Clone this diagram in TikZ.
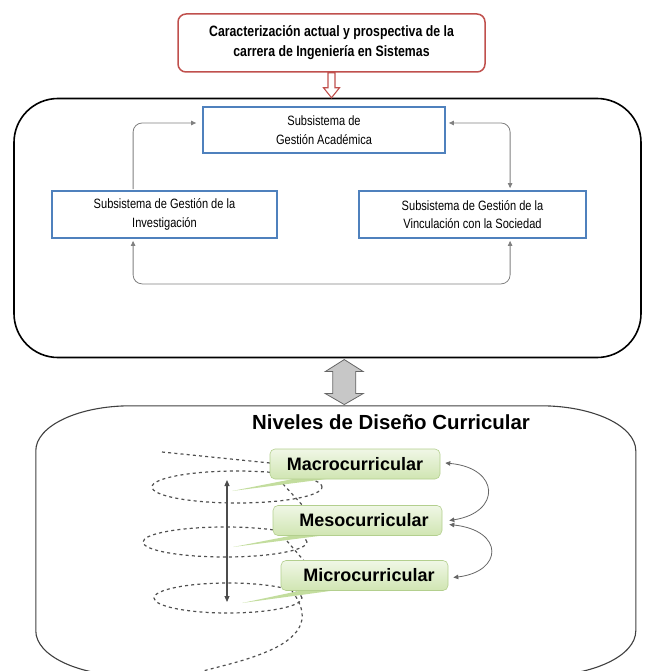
\documentclass[tikz,border=0pt]{standalone}
\usepackage{fontspec}
\setmainfont{Liberation Sans}
\newfontfamily\narrowfont[FakeStretch=0.82]{Liberation Sans}
\usetikzlibrary{arrows.meta,calc}
\definecolor{redb}{HTML}{C0504D}
\definecolor{blueb}{HTML}{4F81BD}
\definecolor{greenb}{HTML}{B3CF8E}
\definecolor{greentop}{HTML}{F0F7E6}
\definecolor{greenbot}{HTML}{D0E5B2}
\definecolor{tailc}{HTML}{C3DD9E}
\definecolor{conng}{HTML}{808080}
\definecolor{helixc}{HTML}{505050}
\tikzset{
  redbox/.style={draw=redb, line width=1.5pt, rounded corners=8pt, fill=white, inner sep=0pt,
    align=center, font=\narrowfont\bfseries\fontsize{15}{20}\selectfont},
  bluebox/.style={draw=blueb, line width=1.8pt, fill=white, inner sep=0pt, align=center,
    font=\narrowfont\fontsize{13.5}{18.5}\selectfont},
  gbox/.style={draw=greenb, line width=0.6pt, rounded corners=5pt, top color=greentop,
    bottom color=greenbot, minimum height=30pt, inner sep=0pt,
    font=\bfseries\fontsize{18}{20}\selectfont},
  conn/.style={draw=conng, line width=0.8pt, rounded corners=9pt,
    >={Triangle[length=5pt,width=4.5pt]}, shorten >=1pt, shorten <=1pt},
  helix/.style={draw=helixc, line width=1.2pt, dash pattern=on 3pt off 3.2pt},
  tailshape/.style={fill=tailc},
  vline/.style={draw=black!70, line width=1.1pt, {Triangle[length=6pt,width=5pt]}-{Triangle[length=6pt,width=5pt]}},
  carrow/.style={draw=black!60, line width=0.8pt, {Triangle[length=5pt,width=4.5pt]}-{Triangle[length=5pt,width=4.5pt]}}
}
\begin{document}
\begin{tikzpicture}[x=1pt,y=-1pt]
\useasboundingbox (0,0) rectangle (652,671);

% top box
\node[redbox, minimum width=307pt, minimum height=58pt] (top) at (331.5,43)
  {Caracterización actual y prospectiva de la\\carrera de Ingeniería en Sistemas};

% outer upper box
\node[draw=black, line width=1.6pt, rounded corners=44pt, minimum width=627pt,
  minimum height=259pt, inner sep=0pt] (outer) at (327.5,228) {};

% hollow arrow
\begin{scope}[shift={(top.south)}]
  \draw[draw=redb, line width=1.1pt, fill=white, line join=miter]
    (-3.5,0) -- (3.5,0) -- (3.5,15) -- (8,15) -- (0,25) -- (-8,15) -- (-3.5,15) -- cycle;
\end{scope}

% subsystem boxes
\node[bluebox, minimum width=242pt, minimum height=46pt] (acad) at (324,130)
  {Subsistema de\\Gestión Académica};
\node[bluebox, minimum width=225pt, minimum height=47pt] (inv) at (164.5,214.5)
  {Subsistema de Gestión de la\\Investigación};
\node[bluebox, minimum width=227pt, minimum height=47pt] (vinc) at (472.5,214.5)
  {Subsistema de Gestión de la\\Vinculación con la Sociedad};

% connectors
\draw[conn,->] ($(inv.north west)+(82,0)$) |- ($(acad.west)+(-5,-7)$);
\draw[conn,<->] ($(acad.east)+(2,-7)$) -| ($(vinc.north west)+(152,-1)$);
\draw[conn,<->] ($(inv.south west)+(82,1)$) |- ($(inv.south west)+(230,45)$) -| ($(vinc.south west)+(152,1)$);

% lower box (elliptical corners)
\node[minimum width=600pt, minimum height=270pt, inner sep=0pt] (lower) at (336,541) {};
\begin{scope}[shift={(lower.north west)}]
  \draw[draw=black!75, line width=1.1pt]
    (0,45) .. controls (0,20.1) and (42.5,0) .. (95,0) -- (505,0)
    .. controls (557.5,0) and (600,20.1) .. (600,45) -- (600,225)
    .. controls (600,249.9) and (557.5,270) .. (505,270) -- (95,270)
    .. controls (42.5,270) and (0,249.9) .. (0,225) -- cycle;
\end{scope}

% grey double block arrow
\coordinate (mid) at ($(outer.south)!0.5!(lower.north)+(12.5,0)$);
\begin{scope}[shift={(mid)}]
  \draw[draw=black!60, line width=0.8pt, fill=black!22, line join=miter]
    (0,-22.5) -- (19,-10.5) -- (11.5,-10.5) -- (11.5,11.5) -- (19,11.5) -- (0,22.5)
    -- (-19,11.5) -- (-11.5,11.5) -- (-11.5,-10.5) -- (-19,-10.5) -- cycle;
\end{scope}

\node[font=\bfseries\fontsize{20.4}{22}\selectfont] (title) at (391,422) {Niveles de Diseño Curricular};

% helix
\draw[helix] (162,452) -- (270,463);
\draw[helix] (237,487) ellipse [x radius=85pt, y radius=16pt];
\draw[helix] (283,484) -- (304,507);
\draw[helix] (225,542) ellipse [x radius=82pt, y radius=15pt];
\draw[helix] (287,541) -- (305,562);
\draw[helix] (228,598) ellipse [x radius=74pt, y radius=15pt];
\draw[helix] (292,591) .. controls (306,610) and (310,630) .. (275,648) .. controls (250,660) and (225,665) .. (203,671);

% vertical arrow
\coordinate (vtop) at (227,480);
\coordinate (vbot) at (227,602);
\draw[vline] (vtop) -- (vbot);

% callout tails
\coordinate (t1) at (232,491);
\coordinate (t2) at (233,547);
\coordinate (t3) at (242,603);
\fill[tailshape] (303,477) -- (342,477) -- (t1) -- cycle;
\fill[tailshape] (305,533) -- (342,533) -- (t2) -- cycle;
\fill[tailshape] (313,588) -- (352,588) -- (t3) -- cycle;

% green boxes
\node[gbox, minimum width=170pt] (macro) at (355,464) {Macrocurricular};
\node[gbox, minimum width=169pt] (meso) at (357.5,520.5) {\hspace*{13pt}Mesocurricular};
\node[gbox, minimum width=167pt] (micro) at (364.5,575.5) {\hspace*{9pt}Microcurricular};

% curved arrows
\draw[carrow] ($(macro.east)+(5,-1)$) .. controls +(55,5) and +(52,-8) .. ($(meso.east)+(7,0)$);
\draw[carrow] ($(meso.east)+(7,4)$) .. controls +(55,6) and +(50,-6) .. ($(micro.east)+(5,2)$);
\end{tikzpicture}
\end{document}
